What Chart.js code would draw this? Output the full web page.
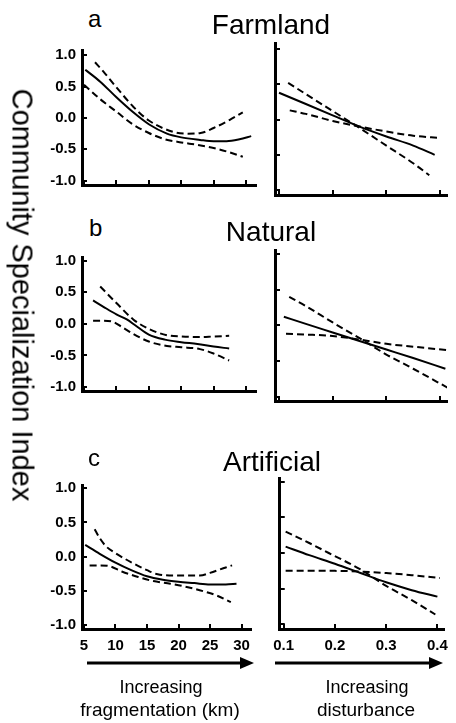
<!DOCTYPE html>
<html>
<head>
<meta charset="utf-8">
<script src="https://cdn.jsdelivr.net/npm/chart.js@4/dist/chart.umd.min.js"></script>
<style>
  body { margin: 0; background: #fff; width: 456px; height: 723px; overflow: hidden; position: relative; font-family: 'Liberation Sans', Arial, sans-serif; }
  canvas { position: absolute; }
  .t { position: absolute; white-space: nowrap; line-height: 1; color: #000; }
</style>
</head>
<body>
<canvas id="aFrag" width="258" height="165" style="left:0;top:35px"></canvas>
<canvas id="aDist" width="191" height="165" style="left:265px;top:35px"></canvas>
<canvas id="bFrag" width="258" height="164" style="left:0;top:242px"></canvas>
<canvas id="bDist" width="191" height="164" style="left:265px;top:242px"></canvas>
<canvas id="cFrag" width="258" height="189" style="left:0;top:470px"></canvas>
<canvas id="cDist" width="191" height="189" style="left:265px;top:470px"></canvas>

<div class="t" style="left:88px;top:7px;font-size:24px">a</div>
<div class="t" style="left:271px;top:11px;font-size:28px;transform:translateX(-50%)">Farmland</div>
<div class="t" style="left:89px;top:216px;font-size:24px">b</div>
<div class="t" style="left:271px;top:218px;font-size:28px;transform:translateX(-50%)">Natural</div>
<div class="t" style="left:88px;top:446px;font-size:24px">c</div>
<div class="t" style="left:272px;top:448px;font-size:28px;transform:translateX(-50%)">Artificial</div>
<div class="t" style="left:22px;top:295px;font-size:29px;transform:translate(-50%,-50%) rotate(90deg)">Community Specialization Index</div>

<svg width="456" height="40" style="position:absolute;left:0;top:645px">
  <line x1="87" y1="18" x2="242" y2="18" stroke="#000" stroke-width="3"/>
  <polygon points="240,12 254,18 240,24" fill="#000"/>
  <line x1="275" y1="18" x2="431" y2="18" stroke="#000" stroke-width="3"/>
  <polygon points="429,12 443,18 429,24" fill="#000"/>
</svg>
<div class="t" style="left:161px;top:678px;font-size:18px;transform:translateX(-50%)">Increasing</div>
<div class="t" style="left:160px;top:700px;font-size:19px;transform:translateX(-50%)">fragmentation (km)</div>
<div class="t" style="left:367px;top:678px;font-size:18px;transform:translateX(-50%)">Increasing</div>
<div class="t" style="left:366px;top:700px;font-size:19px;transform:translateX(-50%)">disturbance</div>

<script>
// tick values
const fragTicks = [5, 10, 15, 20, 25, 30];
const distTicks = [0.1, 0.2, 0.3, 0.4];
const csiTicks = [-1, -0.5, 0, 0.5, 1];

// a - Farmland, fragmentation (km)
const farmFragFitX = [5.2, 7.5, 10, 12.6, 15, 17.8, 20, 22.9, 25, 27, 29, 30.8];
const farmFragFitY = [0.77, 0.58, 0.33, 0.09, -0.10, -0.25, -0.31, -0.35, -0.37, -0.37, -0.34, -0.29];
const farmFragHiX = [6.7, 8, 10, 12.6, 15, 18.7, 21, 23, 25, 27.5, 29.5];
const farmFragHiY = [0.89, 0.74, 0.49, 0.18, -0.04, -0.22, -0.25, -0.24, -0.16, -0.03, 0.09];
const farmFragLoX = [5, 7.5, 10, 12.5, 15, 17.5, 20, 22.5, 25, 27.5, 29.5];
const farmFragLoY = [0.53, 0.30, 0.10, -0.10, -0.24, -0.34, -0.39, -0.43, -0.48, -0.55, -0.62];

// a - Farmland, disturbance
const farmDistFitX = [0.1, 0.15, 0.2, 0.25, 0.3, 0.35, 0.39];
const farmDistFitY = [0.38, 0.22, 0.06, -0.10, -0.24, -0.37, -0.50];
const farmDistHiX = [0.117, 0.15, 0.2, 0.25, 0.3, 0.35, 0.38];
const farmDistHiY = [0.52, 0.36, 0.12, -0.12, -0.37, -0.62, -0.79];
const farmDistLoX = [0.12, 0.15, 0.2, 0.25, 0.3, 0.35, 0.4];
const farmDistLoY = [0.13, 0.08, -0.02, -0.10, -0.17, -0.23, -0.26];

// b - Natural, fragmentation (km)
const natFragFitX = [6.4, 8, 10, 11.6, 13, 15, 17.5, 20, 22.5, 25, 27.4];
const natFragFitY = [0.37, 0.27, 0.15, 0.07, -0.03, -0.17, -0.25, -0.29, -0.32, -0.36, -0.39];
const natFragHiX = [7.5, 10, 12.6, 15, 17.8, 20, 22.9, 25, 27.4];
const natFragHiY = [0.59, 0.33, 0.07, -0.08, -0.18, -0.20, -0.21, -0.20, -0.19];
const natFragLoX = [6.4, 8, 9.5, 11, 12.6, 15, 17.8, 20, 22.9, 25, 27.4];
const natFragLoY = [0.05, 0.05, 0.03, -0.06, -0.16, -0.28, -0.35, -0.37, -0.40, -0.47, -0.58];

// b - Natural, disturbance
const natDistFitX = [0.109, 0.15, 0.2, 0.25, 0.3, 0.35, 0.41];
const natDistFitY = [0.12, 0.02, -0.10, -0.22, -0.34, -0.46, -0.61];
const natDistHiX = [0.119, 0.15, 0.2, 0.25, 0.3, 0.35, 0.415];
const natDistHiY = [0.40, 0.27, 0.04, -0.18, -0.41, -0.61, -0.88];
const natDistLoX = [0.113, 0.15, 0.2, 0.25, 0.3, 0.35, 0.415];
const natDistLoY = [-0.12, -0.13, -0.15, -0.20, -0.26, -0.30, -0.35];

// c - Artificial, fragmentation (km)
const artFragFitX = [5.2, 7.5, 10, 12.5, 15, 17.5, 20, 22.5, 25, 27.5, 29.2];
const artFragFitY = [0.17, 0.04, -0.09, -0.20, -0.29, -0.34, -0.37, -0.39, -0.41, -0.41, -0.40];
const artFragHiX = [6.7, 7.5, 8.5, 10, 12.6, 15, 16.7, 20, 23.4, 25, 27.5, 28.5];
const artFragHiY = [0.40, 0.27, 0.15, 0.05, -0.09, -0.20, -0.26, -0.28, -0.28, -0.24, -0.16, -0.13];
const artFragLoX = [5.9, 7.5, 9, 11, 13.6, 16, 18.7, 21, 24, 26, 28.3];
const artFragLoY = [-0.13, -0.13, -0.14, -0.22, -0.30, -0.36, -0.40, -0.44, -0.51, -0.57, -0.67];

// c - Artificial, disturbance
const artDistFitX = [0.104, 0.15, 0.2, 0.25, 0.3, 0.35, 0.4];
const artDistFitY = [0.09, -0.03, -0.15, -0.28, -0.41, -0.52, -0.61];
const artDistHiX = [0.104, 0.15, 0.188, 0.25, 0.3, 0.35, 0.396];
const artDistHiY = [0.30, 0.14, 0.00, -0.23, -0.46, -0.66, -0.86];
const artDistLoX = [0.104, 0.15, 0.2, 0.25, 0.3, 0.35, 0.405];
const artDistLoY = [-0.25, -0.25, -0.25, -0.26, -0.28, -0.31, -0.35];

Chart.defaults.font.family = "'Liberation Sans', Arial, sans-serif";
Chart.defaults.color = '#000';

// little inward tick marks, like the original
const innerTicks = {
  id: 'innerTicks',
  afterDraw(chart) {
    const { ctx, chartArea: a, scales: { x, y } } = chart;
    ctx.save();
    ctx.strokeStyle = '#000';
    ctx.lineWidth = 2;
    x.ticks.forEach(t => {
      const px = Math.round(x.getPixelForValue(t.value));
      ctx.beginPath(); ctx.moveTo(px, a.bottom); ctx.lineTo(px, a.bottom - 5); ctx.stroke();
    });
    y.ticks.forEach(t => {
      const py = Math.round(y.getPixelForValue(t.value));
      ctx.beginPath(); ctx.moveTo(a.left, py); ctx.lineTo(a.left + 5, py); ctx.stroke();
    });
    ctx.restore();
  }
};

function pts(xs, ys) {
  return xs.map((x, i) => ({ x: x, y: ys[i] }));
}

function line(xs, ys, dashed) {
  return {
    data: pts(xs, ys),
    borderColor: '#000',
    borderWidth: 2,
    borderDash: dashed ? [7, 4] : [],
    pointRadius: 0,
    fill: false,
    tension: 0.4,
    cubicInterpolationMode: 'monotone'
  };
}

function panel(id, lines, o) {
  new Chart(document.getElementById(id), {
    type: 'line',
    data: { datasets: lines },
    options: {
      responsive: false,
      animation: false,
      layout: { padding: { top: 8, right: o.padRight, left: 0, bottom: 0 } },
      plugins: { legend: { display: false }, tooltip: { enabled: false } },
      scales: {
        x: {
          type: 'linear',
          min: o.xMin, max: o.xMax,
          afterBuildTicks: s => { s.ticks = o.xTicks.map(v => ({ value: v })); },
          afterFit: s => { s.height = o.xLabels ? 30 : 5; },
          grid: { display: false, drawTicks: false },
          border: { display: true, width: 3, color: '#000' },
          ticks: {
            display: o.xLabels, autoSkip: false, maxRotation: 0, padding: 8,
            font: { size: 15, weight: 'bold' },
            callback: v => o.xFmt(v)
          }
        },
        y: {
          min: o.yMin, max: o.yMax,
          afterBuildTicks: s => { s.ticks = csiTicks.map(v => ({ value: v })); },
          afterFit: s => { s.width = o.yLabels ? 82 : 10; },
          grid: { display: false, drawTicks: false },
          border: { display: true, width: 3, color: '#000' },
          ticks: {
            display: o.yLabels, autoSkip: false, padding: 6,
            font: { size: 15, weight: 'bold' },
            callback: v => v.toFixed(1)
          }
        }
      }
    },
    plugins: [innerTicks]
  });
}

const fragAxis = { xMin: 4.69, xMax: 31.54, xTicks: fragTicks, xFmt: v => String(v), yLabels: true, padRight: 2 };
const distAxis = { xMin: 0.0925, xMax: 0.413, xTicks: distTicks, xFmt: v => v.toFixed(1), yLabels: false, padRight: 9 };
const rowA = { yMin: -1.07, yMax: 1.085, xLabels: false };
const rowB = { yMin: -1.063, yMax: 1.058, xLabels: false };
const rowC = { yMin: -1.063, yMax: 1.049, xLabels: true };

panel('aFrag', [line(farmFragFitX, farmFragFitY, false), line(farmFragHiX, farmFragHiY, true), line(farmFragLoX, farmFragLoY, true)], Object.assign({}, fragAxis, rowA));
panel('aDist', [line(farmDistFitX, farmDistFitY, false), line(farmDistHiX, farmDistHiY, true), line(farmDistLoX, farmDistLoY, true)], Object.assign({}, distAxis, rowA));
panel('bFrag', [line(natFragFitX, natFragFitY, false), line(natFragHiX, natFragHiY, true), line(natFragLoX, natFragLoY, true)], Object.assign({}, fragAxis, rowB));
panel('bDist', [line(natDistFitX, natDistFitY, false), line(natDistHiX, natDistHiY, true), line(natDistLoX, natDistLoY, true)], Object.assign({}, distAxis, rowB));
panel('cFrag', [line(artFragFitX, artFragFitY, false), line(artFragHiX, artFragHiY, true), line(artFragLoX, artFragLoY, true)], Object.assign({}, fragAxis, rowC));
panel('cDist', [line(artDistFitX, artDistFitY, false), line(artDistHiX, artDistHiY, true), line(artDistLoX, artDistLoY, true)], Object.assign({}, distAxis, rowC));
</script>
</body>
</html>
